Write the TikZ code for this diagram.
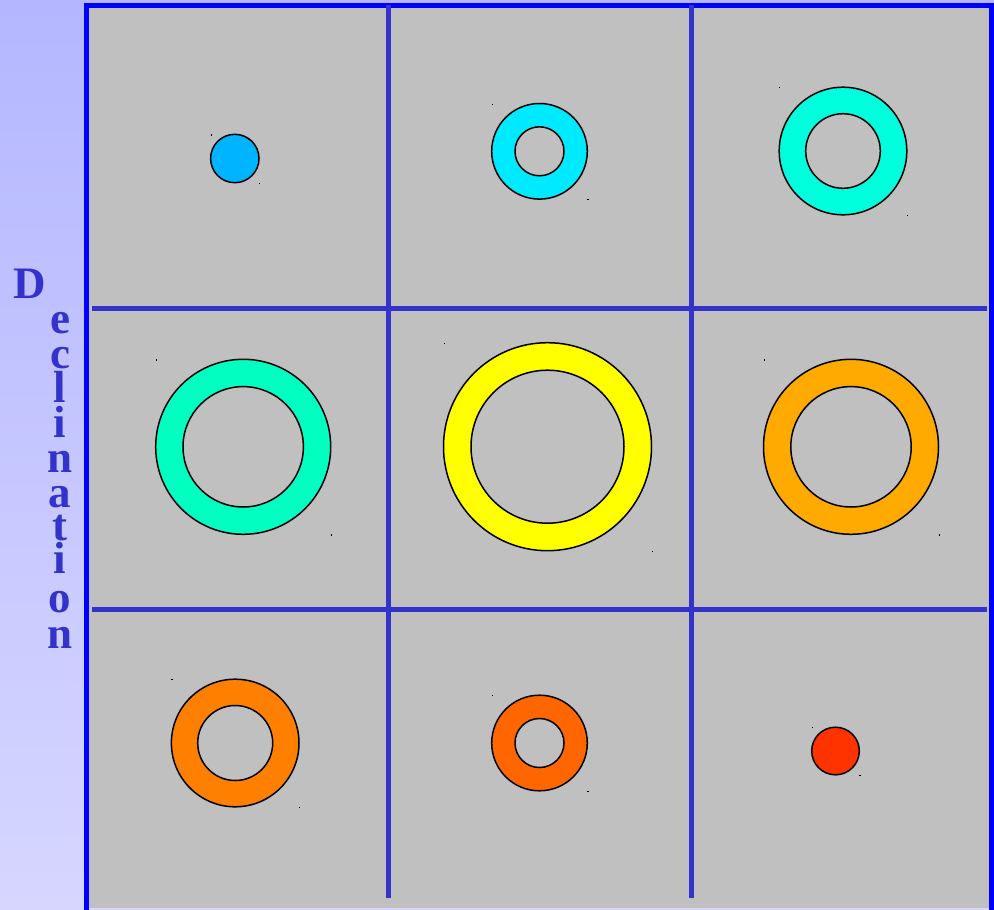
\documentclass[tikz,border=0pt]{standalone}
\usepackage{fontspec}
\setmainfont{Liberation Serif}
\definecolor{gridblue}{RGB}{51,51,204}
\definecolor{frameblue}{RGB}{0,0,255}
\definecolor{cellgray}{RGB}{192,192,192}
\definecolor{bandtop}{RGB}{180,183,255}
\definecolor{bandbot}{RGB}{214,214,255}
\definecolor{ringA}{RGB}{0,180,255}
\definecolor{ringB}{RGB}{0,234,255}
\definecolor{ringC}{RGB}{0,255,221}
\definecolor{ringD}{RGB}{0,255,192}
\definecolor{ringE}{RGB}{255,255,0}
\definecolor{ringF}{RGB}{255,170,0}
\definecolor{ringG}{RGB}{255,128,0}
\definecolor{ringH}{RGB}{255,102,0}
\definecolor{ringI}{RGB}{255,51,0}
\begin{document}
\begin{tikzpicture}[x=1pt,y=-1pt,
    ring/.style={draw=black,line width=1.5pt,even odd rule},
    gridline/.style={gridblue,line width=5pt},
    speck/.style={fill=black},
    letter/.style={gridblue,font=\fontsize{45}{45}\selectfont\bfseries,anchor=base,inner sep=0pt}]
    \useasboundingbox (0,0) rectangle (994,910);
    \shade[top color=bandtop,bottom color=bandbot] (0,0) rectangle (994,910);
    \fill[cellgray] (86.5,5.5) rectangle (991.5,908);
    \draw[frameblue,line width=5pt] (86.5,5.5) rectangle (991.5,914);
    % grid lines
    \foreach \x in {388.5,691} {
        \draw[gridline] (\x,5) -- (\x,898);
    }
    \foreach \y in {308,609.5} {
        \draw[gridline] (92,\y) -- (987,\y);
    }
    % solid discs
    \foreach \cx/\cy/\ro/\col in {234.8/158.5/24.2/ringA,835.5/751/23.8/ringI} {
        \filldraw[ring,fill=\col] (\cx,\cy) circle[radius=\ro pt];
        \fill[speck] (\cx-\ro,\cy-\ro) rectangle +(1.2,1.2);
        \fill[speck] (\cx+\ro,\cy+\ro) rectangle +(1.2,1.2);
    }
    % rings
    \foreach \cx/\cy/\ro/\ri/\col in {539.5/151.3/47.8/24.5/ringB,843/151/63.8/37.3/ringC,
        243.2/446.8/87.5/60.2/ringD,547.5/446.7/104/76.5/ringE,851/446.8/87.5/60.2/ringF,
        235.2/743/63.8/37.5/ringG,539.5/743/47.8/24.5/ringH} {
        \filldraw[ring,fill=\col] (\cx,\cy) circle[radius=\ro pt] (\cx,\cy) circle[radius=\ri pt];
        \fill[speck] (\cx-\ro,\cy-\ro) rectangle +(1.2,1.2);
        \fill[speck] (\cx+\ro,\cy+\ro) rectangle +(1.2,1.2);
    }
    % axis label
    \foreach \ch/\xx/\yy [count=\i] in {D/30/298,e/60/333,c/60/368,l/60/402,i/60/437,n/60/472,
        a/60/507,t/60/540,i/60/573,o/60/612,n/60/648} {
        \node[letter] (dec\i) at (\xx,\yy) {\ch};
    }
\end{tikzpicture}
\end{document}
